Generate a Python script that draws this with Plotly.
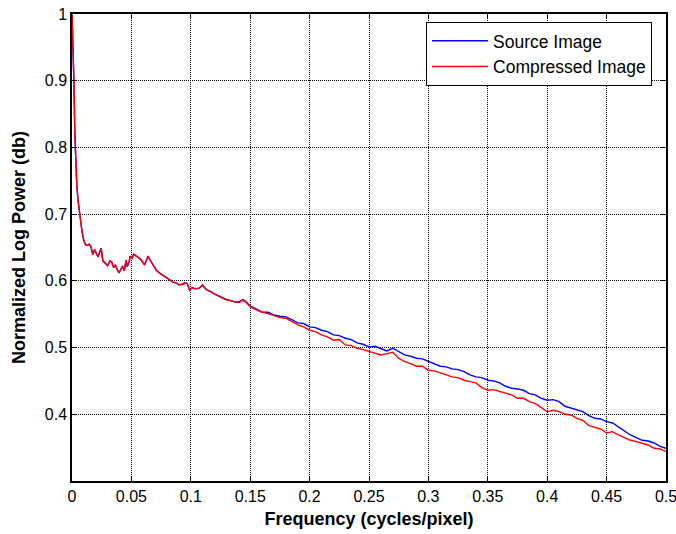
import plotly.graph_objects as go

freq = [0.000, 0.0008, 0.0016, 0.0024, 0.0032, 0.0040, 0.0050, 0.0060, 0.0070, 0.0080,
        0.0090, 0.0100, 0.0115, 0.0130, 0.0145, 0.0160, 0.0175, 0.0190, 0.0205, 0.0220,
        0.0235, 0.0245, 0.0260, 0.0280, 0.0300, 0.0320, 0.0335, 0.0350, 0.0365, 0.0380,
        0.0395, 0.0410, 0.0425, 0.0440, 0.0455, 0.0465, 0.0480, 0.0490, 0.0505, 0.0520,
        0.0540, 0.0560, 0.0580, 0.0595, 0.0610, 0.0625, 0.0640, 0.0655, 0.0670, 0.0690,
        0.0710, 0.0735, 0.0760, 0.0785, 0.0810, 0.0830, 0.0850, 0.0875, 0.0900, 0.0925,
        0.0950, 0.0970, 0.0990, 0.1010, 0.1040, 0.1070, 0.1100, 0.1120, 0.1140, 0.1170,
        0.1200, 0.1230, 0.1260, 0.1290, 0.1320, 0.1350, 0.1380, 0.1410, 0.1440, 0.1470,
        0.1500,
        0.155, 0.160, 0.165, 0.170, 0.175, 0.180, 0.185, 0.190, 0.195, 0.200,
        0.205, 0.210, 0.215, 0.220, 0.225, 0.230, 0.235, 0.240, 0.245, 0.250,
        0.255, 0.260, 0.265, 0.270, 0.275, 0.280, 0.285, 0.290, 0.295, 0.300,
        0.305, 0.310, 0.315, 0.320, 0.325, 0.330, 0.335, 0.340, 0.345, 0.350,
        0.355, 0.360, 0.365, 0.370, 0.375, 0.380, 0.385, 0.390, 0.395, 0.400,
        0.405, 0.410, 0.415, 0.420, 0.425, 0.430, 0.435, 0.440, 0.445, 0.450,
        0.455, 0.460, 0.465, 0.470, 0.475, 0.480, 0.485, 0.490, 0.495, 0.500]

source_image = [1.000, 0.960, 0.900, 0.820, 0.770, 0.745, 0.722, 0.705, 0.692, 0.680,
                0.668, 0.660, 0.654, 0.653, 0.655, 0.651, 0.639, 0.647, 0.641, 0.636,
                0.644, 0.649, 0.630, 0.626, 0.623, 0.630, 0.628, 0.620, 0.624, 0.617,
                0.612, 0.617, 0.622, 0.615, 0.631, 0.621, 0.628, 0.637, 0.634, 0.640,
                0.637, 0.634, 0.632, 0.628, 0.624, 0.630, 0.637, 0.632, 0.627, 0.622,
                0.616, 0.612, 0.609, 0.605, 0.603, 0.600, 0.598, 0.597, 0.594, 0.595,
                0.597, 0.596, 0.586, 0.590, 0.588, 0.589, 0.594, 0.589, 0.586, 0.584,
                0.580, 0.578, 0.575, 0.573, 0.571, 0.570, 0.568, 0.569, 0.572, 0.568,
                0.562,
                0.558, 0.553, 0.553, 0.549, 0.547, 0.546, 0.542, 0.537, 0.536, 0.531,
                0.530, 0.526, 0.524, 0.519, 0.518, 0.514, 0.512, 0.507, 0.505, 0.501,
                0.502, 0.499, 0.495, 0.499, 0.494, 0.489, 0.487, 0.484, 0.483, 0.479,
                0.475, 0.472, 0.471, 0.468, 0.467, 0.464, 0.459, 0.456, 0.455, 0.451,
                0.450, 0.447, 0.442, 0.439, 0.438, 0.436, 0.431, 0.429, 0.424, 0.421,
                0.422, 0.419, 0.412, 0.409, 0.406, 0.404, 0.398, 0.394, 0.393, 0.389,
                0.387, 0.381, 0.374, 0.369, 0.365, 0.361, 0.360, 0.357, 0.352, 0.349]

compressed_image = [1.000, 0.960, 0.900, 0.820, 0.770, 0.745, 0.722, 0.705, 0.692, 0.680,
                    0.668, 0.660, 0.654, 0.653, 0.655, 0.651, 0.639, 0.647, 0.641, 0.636,
                    0.644, 0.649, 0.630, 0.626, 0.623, 0.630, 0.628, 0.620, 0.624, 0.617,
                    0.612, 0.617, 0.622, 0.615, 0.631, 0.621, 0.628, 0.637, 0.634, 0.640,
                    0.637, 0.634, 0.632, 0.628, 0.624, 0.630, 0.637, 0.632, 0.627, 0.622,
                    0.616, 0.612, 0.609, 0.605, 0.603, 0.600, 0.598, 0.597, 0.594, 0.594,
                    0.596, 0.596, 0.586, 0.590, 0.588, 0.589, 0.593, 0.589, 0.586, 0.583,
                    0.580, 0.577, 0.575, 0.572, 0.571, 0.569, 0.568, 0.568, 0.571, 0.567,
                    0.561,
                    0.557, 0.553, 0.551, 0.548, 0.545, 0.544, 0.539, 0.534, 0.531, 0.526,
                    0.524, 0.519, 0.516, 0.511, 0.512, 0.504, 0.503, 0.499, 0.497, 0.494,
                    0.492, 0.489, 0.491, 0.493, 0.484, 0.479, 0.476, 0.472, 0.472, 0.466,
                    0.465, 0.462, 0.458, 0.456, 0.455, 0.451, 0.449, 0.447, 0.440, 0.436,
                    0.437, 0.434, 0.431, 0.429, 0.424, 0.424, 0.419, 0.416, 0.410, 0.404,
                    0.406, 0.404, 0.400, 0.399, 0.394, 0.391, 0.383, 0.381, 0.378, 0.372,
                    0.374, 0.369, 0.365, 0.361, 0.359, 0.357, 0.354, 0.349, 0.348, 0.344]

x_ticks = [0, 0.05, 0.1, 0.15, 0.2, 0.25, 0.3, 0.35, 0.4, 0.45, 0.5]
x_tick_labels = ["0", "0.05", "0.1", "0.15", "0.2", "0.25", "0.3", "0.35", "0.4", "0.45", "0.5"]
y_ticks = [0.4, 0.5, 0.6, 0.7, 0.8, 0.9, 1.0]
y_tick_labels = ["0.4", "0.5", "0.6", "0.7", "0.8", "0.9", "1"]

FONT = "Liberation Sans, Arial, sans-serif"

fig = go.Figure()
fig.add_trace(go.Scatter(x=freq, y=source_image, mode="lines", name="Source Image",
                         line=dict(color="#0000ff", width=1.4)))
fig.add_trace(go.Scatter(x=freq, y=compressed_image, mode="lines", name="Compressed Image",
                         line=dict(color="#ff0000", width=1.4)))

axis_common = dict(
    showline=True, linecolor="black", linewidth=1.5, mirror="ticks",
    ticks="inside", ticklen=5, tickcolor="black", tickwidth=1,
    showgrid=True, gridcolor="black", griddash="1px,1px", gridwidth=1,
    zeroline=False, automargin=False, ticklabeloverflow="allow",
    tickfont=dict(family=FONT, size=16, color="black"),
)

fig.update_layout(
    width=676, height=534,
    margin=dict(l=72, r=10, t=14, b=53),
    paper_bgcolor="white", plot_bgcolor="white",
    font=dict(family=FONT, color="black"),
    xaxis=dict(range=[0, 0.5], tickvals=x_ticks, ticktext=x_tick_labels,
               title=dict(text="<b>Frequency (cycles/pixel)</b>",
                          font=dict(family=FONT, size=18), standoff=8),
               **axis_common),
    yaxis=dict(range=[0.3, 1.0], tickvals=y_ticks, ticktext=y_tick_labels,
               title=dict(text="<b>Normalized Log Power (db)</b>",
                          font=dict(family=FONT, size=18), standoff=14),
               **axis_common),
    legend=dict(x=0.596, y=0.983, xanchor="left", yanchor="top",
                bgcolor="white", bordercolor="black", borderwidth=1,
                font=dict(family=FONT, size=17.5, color="black"),
                itemwidth=56, tracegroupgap=0),
    showlegend=True,
)

fig.write_html("out.html")
